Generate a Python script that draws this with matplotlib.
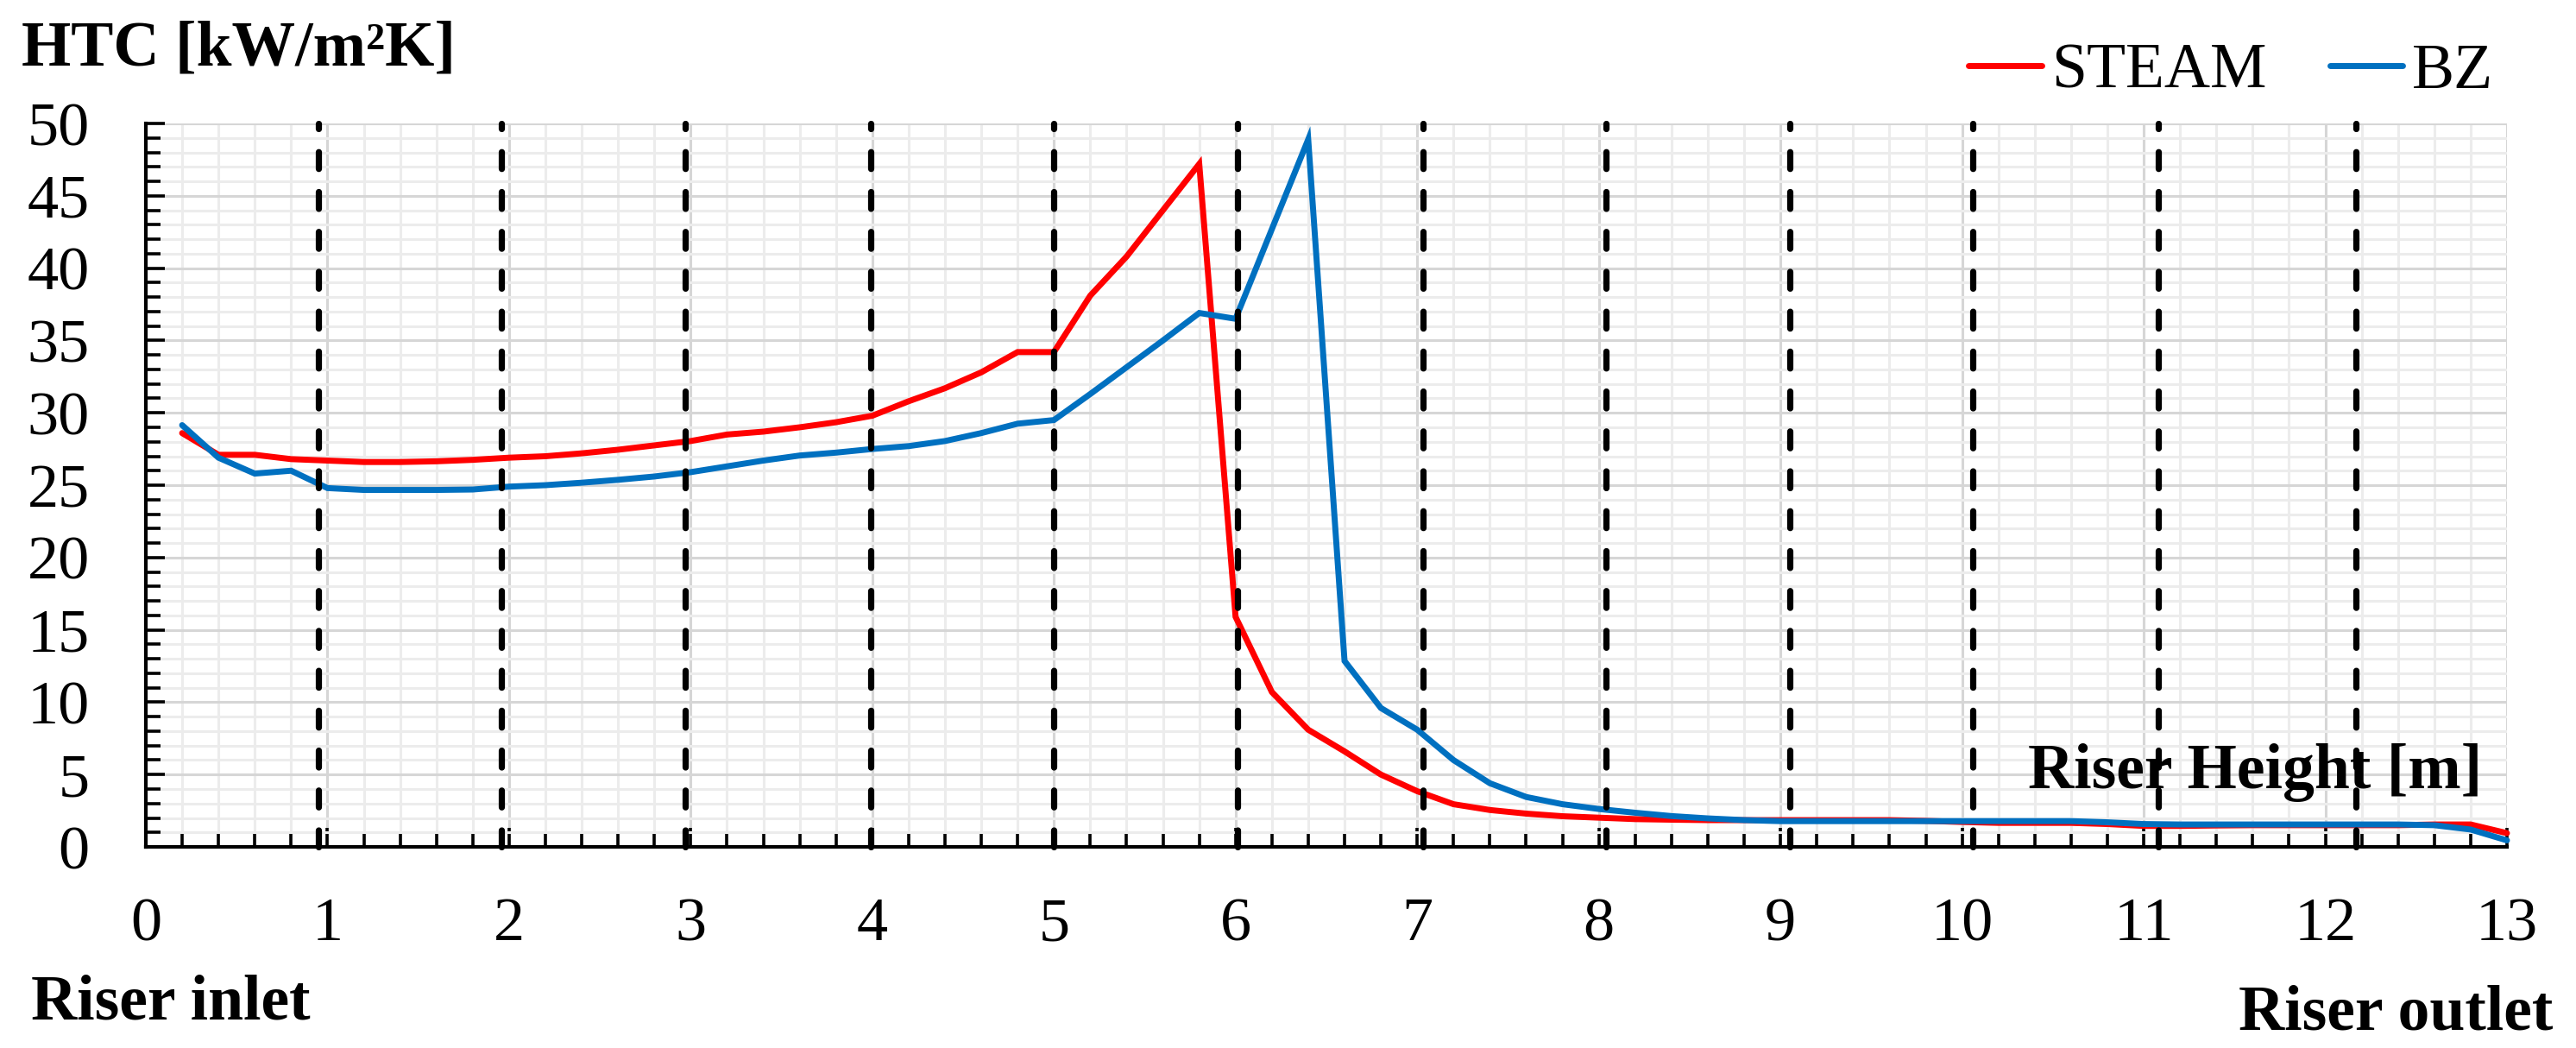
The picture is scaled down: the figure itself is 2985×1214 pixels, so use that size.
import numpy as np
import matplotlib
matplotlib.use("Agg")
import matplotlib.pyplot as plt
from matplotlib.ticker import MultipleLocator

plt.rcParams['font.family'] = ['Liberation Serif', 'DejaVu Serif']

# ---------------- data ----------------
height = [0.2, 0.4, 0.6, 0.8, 1.0, 1.2, 1.4, 1.6, 1.8, 2.0,
          2.2, 2.4, 2.6, 2.8, 3.0, 3.2, 3.4, 3.6, 3.8, 4.0,
          4.2, 4.4, 4.6, 4.8, 5.0, 5.2, 5.4, 5.6, 5.8, 6.0,
          6.2, 6.4, 6.6, 6.8, 7.0, 7.2, 7.4, 7.6, 7.8, 8.0,
          8.2, 8.4, 8.6, 8.8, 9.0, 9.2, 9.4, 9.6, 9.8, 10.0,
          10.2, 10.4, 10.6, 10.8, 11.0, 11.2, 11.4, 11.6, 11.8, 12.0,
          12.2, 12.4, 12.6, 12.8, 13.0]

steam = [28.6, 27.1, 27.1, 26.8, 26.7, 26.6, 26.6, 26.65, 26.75, 26.9,
         27.0, 27.2, 27.45, 27.75, 28.05, 28.5, 28.7, 29.0, 29.35, 29.8,
         30.8, 31.7, 32.8, 34.2, 34.2, 38.1, 40.8, 44.0, 47.2, 15.9,
         10.7, 8.1, 6.6, 5.0, 3.85, 2.95, 2.55, 2.3, 2.12, 2.02,
         1.92, 1.88, 1.85, 1.85, 1.85, 1.85, 1.85, 1.85, 1.8, 1.72,
         1.66, 1.66, 1.66, 1.58, 1.45, 1.45, 1.48, 1.5, 1.5, 1.5,
         1.5, 1.5, 1.55, 1.55, 0.95]

bz = [29.15, 26.9, 25.8, 26.0, 24.8, 24.67, 24.67, 24.67, 24.7, 24.9,
      25.0, 25.17, 25.37, 25.6, 25.9, 26.3, 26.7, 27.05, 27.25, 27.5,
      27.7, 28.05, 28.6, 29.25, 29.5, 31.3, 33.15, 35.0, 36.9, 36.5,
      42.7, 48.9, 12.85, 9.6, 8.1, 6.0, 4.4, 3.45, 2.95, 2.62,
      2.36, 2.13, 1.97, 1.85, 1.78, 1.78, 1.78, 1.78, 1.78, 1.78,
      1.78, 1.78, 1.78, 1.7, 1.58, 1.55, 1.55, 1.55, 1.55, 1.55,
      1.55, 1.55, 1.5, 1.2, 0.45]

section_bounds = [0.95, 1.96, 2.97, 3.99, 5.0, 6.01, 7.03, 8.04, 9.05, 10.06, 11.08, 12.17]

x_ticks = list(range(0, 14))
y_ticks = list(range(0, 55, 5))

series_names = ['STEAM', 'BZ']
series_colors = ['#FF0000', '#0070C0']

# ---------------- figure ----------------
fig = plt.figure(figsize=(29.85, 12.14), dpi=100)
ax = fig.add_axes([0.0566, 0.1919, 0.9166, 0.6903])

ax.set_xlim(0, 13)
ax.set_ylim(0, 50)
ax.set_xticks(x_ticks)
ax.set_yticks(y_ticks)
ax.xaxis.set_minor_locator(MultipleLocator(0.2))
ax.yaxis.set_minor_locator(MultipleLocator(1))

ax.grid(which='minor', color='#ececec', linewidth=2.2, zorder=0)
ax.grid(which='major', color='#d6d6d6', linewidth=2.2, zorder=0)
ax.set_axisbelow(True)

for s in ['top', 'right']:
    ax.spines[s].set_visible(False)
for s in ['left', 'bottom']:
    ax.spines[s].set_linewidth(3.0)
    ax.spines[s].set_color('black')
    ax.spines[s].set_zorder(5)

ax.tick_params(axis='both', which='major', direction='in', length=16, width=2.6,
               labelsize=52, color='black')
ax.tick_params(axis='both', which='minor', direction='in', length=12, width=2.6,
               color='black')
ax.tick_params(axis='y', which='major', pad=47)
ax.tick_params(axis='x', which='major', pad=42)

lines = []
for vals, name, col in zip([steam, bz], series_names, series_colors):
    ln, = ax.plot(height, vals, color=col, linewidth=5.0, label=name,
                  solid_joinstyle='miter', solid_capstyle='round',
                  zorder=3, clip_on=False)
    lines.append(ln)

for xb in section_bounds:
    ax.axvline(xb, ymin=0, ymax=1, color='black', linewidth=5.2,
               linestyle=(0, (2.7, 3.7)), dash_capstyle='round',
               zorder=4, clip_on=False)

ax.text(0.9894, 0.081, 'Riser Height [m]', transform=ax.transAxes,
        ha='right', va='baseline', fontsize=53, fontweight='bold', zorder=3)

fig.text(0.0085, 0.9382, 'HTC [kW/m²K]', ha='left', va='baseline',
         fontsize=53, fontweight='bold')
fig.text(0.012, 0.028, 'Riser inlet', ha='left', va='baseline',
         fontsize=53, fontweight='bold')
fig.text(0.991, 0.0173, 'Riser outlet', ha='right', va='baseline',
         fontsize=53, fontweight='bold')

fig.legend(handles=lines, labels=series_names, loc='center right',
           bbox_to_anchor=(0.968, 0.931), ncol=2, frameon=False,
           fontsize=53, handlelength=1.15, handletextpad=0.15,
           columnspacing=1.0, borderpad=0, borderaxespad=0)

fig.savefig('out.png', dpi=100)
